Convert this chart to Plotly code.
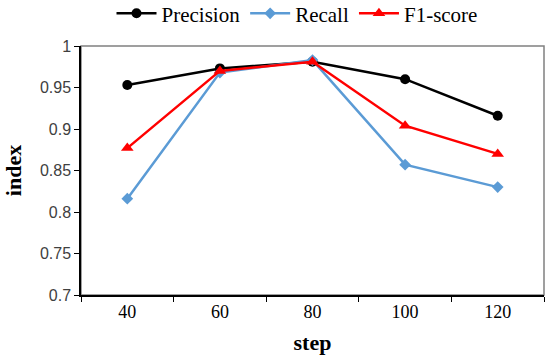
import plotly.graph_objects as go

steps = ["40", "60", "80", "100", "120"]
precision = [0.953, 0.973, 0.981, 0.960, 0.916]
recall = [0.816, 0.968, 0.983, 0.857, 0.830]
f1 = [0.877, 0.970, 0.981, 0.904, 0.870]

fig = go.Figure()
fig.add_trace(go.Scatter(x=steps, y=precision, name="Precision", mode="lines+markers",
                         line=dict(color="black", width=2.5),
                         marker=dict(symbol="circle", size=10, color="black")))
fig.add_trace(go.Scatter(x=steps, y=recall, name="Recall", mode="lines+markers",
                         line=dict(color="#5B9BD5", width=2.5),
                         marker=dict(symbol="diamond", size=9, color="#5B9BD5")))
fig.add_trace(go.Scatter(x=steps, y=f1, name="F1-score", mode="lines+markers",
                         line=dict(color="#FF0000", width=2.5),
                         marker=dict(symbol="triangle-up", size=11, color="#FF0000")))

fig.add_shape(type="rect", xref="paper", yref="paper", x0=0, y0=0, x1=1, y1=1,
              line=dict(color="#808080", width=1.5), layer="below")

fig.update_layout(
    width=550, height=360,
    margin=dict(l=81, r=6, t=46, b=65, autoexpand=False),
    plot_bgcolor="white", paper_bgcolor="white",
    showlegend=True,
    legend=dict(orientation="h", x=0.54, xanchor="center", y=0.962, yanchor="middle",
                xref="container", yref="container",
                font=dict(family="Liberation Serif", size=21, color="black"),
                itemwidth=40, tracegroupgap=0),
    xaxis=dict(type="category", range=[-0.5, 4.5], tickson="boundaries", automargin=False,
               ticks="outside", ticklen=5, tickcolor="black",
               showline=True, linecolor="black", linewidth=1.5, showgrid=False,
               tickfont=dict(family="Liberation Serif", size=18, color="black"),
               title=dict(text="<b>step</b>", font=dict(family="Liberation Serif", size=22, color="black"), standoff=13)),
    yaxis=dict(range=[0.7, 1.0], dtick=0.05, ticks="outside", ticklen=5, tickcolor="black", automargin=False,
               showline=True, linecolor="black", linewidth=1.5, showgrid=False, zeroline=False,
               tickfont=dict(family="Liberation Sans", size=16, color="#404040"),
               title=dict(text="<b>index</b>", font=dict(family="Liberation Serif", size=22, color="black"), standoff=12)),
)

fig.write_html("out.html", config={"displayModeBar": False},
               post_script="document.body.style.margin='0px';document.body.style.overflow='hidden';")
